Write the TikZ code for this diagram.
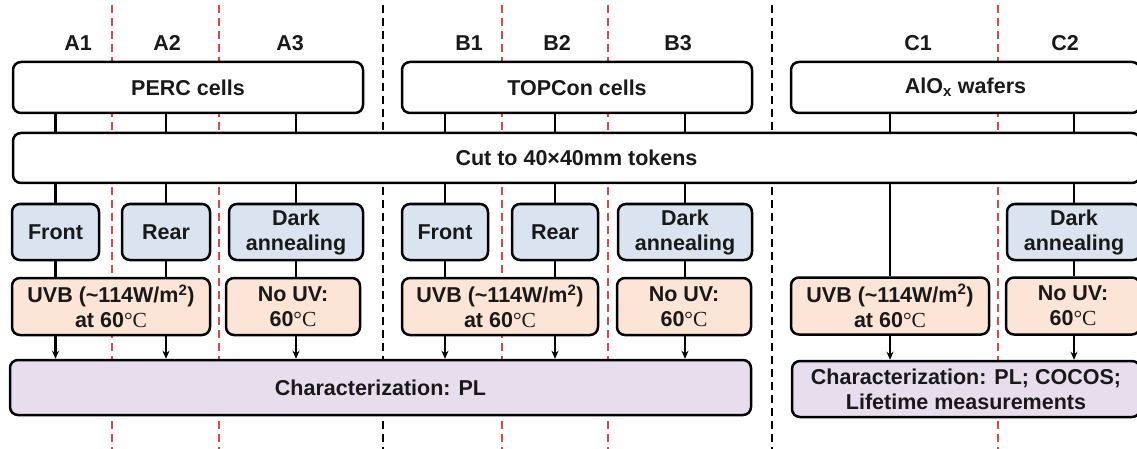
\documentclass[tikz,border=0pt]{standalone}
\usepackage{fontspec}
\setmainfont{Liberation Sans}
\newfontfamily\serifC{Liberation Serif}
\usetikzlibrary{arrows.meta}
\definecolor{bluebox}{RGB}{218,227,240}
\definecolor{peachbox}{RGB}{252,229,214}
\definecolor{lilacbox}{RGB}{231,221,236}
\definecolor{reddash}{RGB}{222,70,70}
\definecolor{txt}{RGB}{25,25,25}
\newcommand{\degC}{{\serifC\mdseries °C}}
\tikzset{
  box/.style={draw, line width=2.5pt, rounded corners=8pt, fill=white, align=center,
    inner sep=0pt, text=txt, font=\fontsize{21.5}{25}\selectfont\bfseries},
  bluestep/.style={box, fill=bluebox, minimum height=56pt},
  peachstep/.style={box, fill=peachbox, minimum height=57pt},
  lilacstep/.style={box, fill=lilacbox, minimum height=56pt},
  toplbl/.style={font=\fontsize{21.5}{25}\selectfont\bfseries, text=txt, inner sep=0pt},
  conn/.style={line width=2.2pt},
  arr/.style={line width=2.2pt, -{Stealth[length=8pt,width=7pt]}},
  blackdash/.style={line width=2pt, dash pattern=on 8pt off 5pt},
  reddashl/.style={line width=1.7pt, draw=reddash, dash pattern=on 8pt off 5pt},
}
\begin{document}
\begin{tikzpicture}[x=1pt,y=-1pt]
\useasboundingbox (0,0) rectangle (1137,449);
% background separators
\foreach \xx in {112,219,502,608,998} \draw[reddashl] (\xx,5) -- (\xx,449);
\foreach \xx in {383,772} \draw[blackdash] (\xx,5) -- (\xx,449);
% column labels
\node[toplbl] (la1) at (78,43) {A1};
\node[toplbl] (la2) at (167,43) {A2};
\node[toplbl] (la3) at (290,43) {A3};
\node[toplbl] (lb1) at (469,43) {B1};
\node[toplbl] (lb2) at (557,43) {B2};
\node[toplbl] (lb3) at (678,43) {B3};
\node[toplbl] (lc1) at (918,43) {C1};
\node[toplbl] (lc2) at (1065,43) {C2};
% top boxes
\node[box, minimum width=350pt, minimum height=51pt] (perc) at (188,87.5) {PERC cells};
\node[box, minimum width=350pt, minimum height=51pt] (topcon) at (577,87.5) {TOPCon cells};
\node[box, minimum width=349pt, minimum height=51pt] (alox) at (965.5,87.5) {AlO\textsubscript{x} wafers};
% cut box
\node[box, minimum width=1127pt, minimum height=50pt] (cut) at (576.5,158) {Cut to 40×40mm tokens};
% second row
\node[bluestep, minimum width=87pt] (frontA) at (55.5,232) {Front};
\node[bluestep, minimum width=88pt] (rearA) at (166,232) {Rear};
\node[bluestep, minimum width=134pt] (darkA) at (296,232) {Dark\\annealing};
\node[bluestep, minimum width=86pt] (frontB) at (445,232) {Front};
\node[bluestep, minimum width=86pt] (rearB) at (555,232) {Rear};
\node[bluestep, minimum width=134pt] (darkB) at (685,232) {Dark\\annealing};
\node[bluestep, minimum width=134pt] (darkC) at (1074,232) {Dark\\annealing};
% third row
\node[peachstep, minimum width=198pt] (uvbA) at (111,306.5) {UVB (\textasciitilde 114W/m\textsuperscript{2})\\at 60\degC};
\node[peachstep, minimum width=134pt] (nouvA) at (293,306.5) {No UV:\\60\degC};
\node[peachstep, minimum width=196pt] (uvbB) at (500,306.5) {UVB (\textasciitilde 114W/m\textsuperscript{2})\\at 60\degC};
\node[peachstep, minimum width=134pt] (nouvB) at (684,306.5) {No UV:\\60\degC};
\node[peachstep, minimum width=198pt] (uvbC) at (890,306) {UVB (\textasciitilde 114W/m\textsuperscript{2})\\at 60\degC};
\node[peachstep, minimum width=134pt] (nouvC) at (1073,306) {No UV:\\60\degC};
% characterization
\node[lilacstep, minimum width=741pt, minimum height=55pt] (charAB) at (380.5,387.5) {Characterization: PL};
\node[lilacstep, minimum width=348pt] (charC) at (966,389) {Characterization: PL; COCOS;\\Lifetime measurements};
% connectors: top boxes to cut
\foreach \n/\src in {frontA/perc,rearA/perc,darkA/perc,frontB/topcon,rearB/topcon,darkB/topcon,uvbC/alox,darkC/alox}
  \draw[conn] (\src.south -| \n.north) -- (cut.north -| \n.north);
% cut to second row
\foreach \n in {frontA,rearA,darkA,frontB,rearB,darkB,darkC}
  \draw[conn] (cut.south -| \n.north) -- (\n.north);
\draw[conn] (cut.south -| uvbC.north) -- (uvbC.north);
% second row to third row
\draw[conn] (frontA.south) -- (uvbA.north -| frontA.south);
\draw[conn] (rearA.south) -- (uvbA.north -| rearA.south);
\draw[conn] (darkA.south) -- (nouvA.north -| darkA.south);
\draw[conn] (frontB.south) -- (uvbB.north -| frontB.south);
\draw[conn] (rearB.south) -- (uvbB.north -| rearB.south);
\draw[conn] (darkB.south) -- (nouvB.north -| darkB.south);
\draw[conn] (darkC.south) -- (nouvC.north -| darkC.south);
% arrows to characterization
\draw[arr] (uvbA.south -| frontA.south) -- (charAB.north -| frontA.south);
\draw[arr] (uvbA.south -| rearA.south) -- (charAB.north -| rearA.south);
\draw[arr] (nouvA.south -| darkA.south) -- (charAB.north -| darkA.south);
\draw[arr] (uvbB.south -| frontB.south) -- (charAB.north -| frontB.south);
\draw[arr] (uvbB.south -| rearB.south) -- (charAB.north -| rearB.south);
\draw[arr] (nouvB.south -| darkB.south) -- (charAB.north -| darkB.south);
\draw[arr] (uvbC.south) -- (charC.north -| uvbC.south);
\draw[arr] (nouvC.south -| darkC.south) -- (charC.north -| darkC.south);
\end{tikzpicture}
\end{document}
